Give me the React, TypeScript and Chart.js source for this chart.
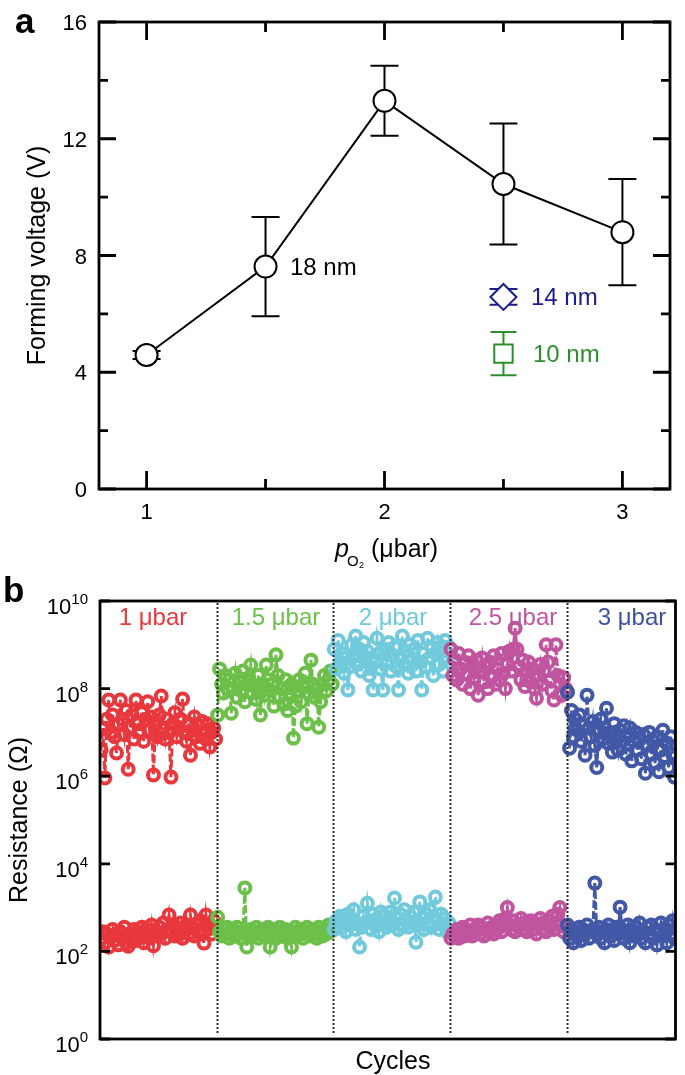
import React, { useEffect, useRef } from "react";
import { Chart, registerables } from "chart.js";

Chart.register(...registerables);

const FONT = '"Liberation Sans", Arial, Helvetica, sans-serif';

// ---------------- Panel a data ----------------
const pressureMajorTicks = [1, 2, 3];
const pressureMinorTicks = [1.5, 2.5];
const voltageMajorTicks = [0, 4, 8, 12, 16];
const voltageMinorTicks = [2, 6, 10, 14];

const pressures18nm = [1, 1.5, 2, 2.5, 3];
const voltage18nm = [4.59, 7.62, 13.3, 10.45, 8.8];
const error18nm = [0.14, 1.7, 1.2, 2.07, 1.82];

const pressures14nm = [2.5];
const voltage14nm = [6.58];
const error14nm = [0.27];

const pressures10nm = [2.5];
const voltage10nm = [4.64];
const error10nm = [0.74];

// ---------------- Panel b data ----------------
const segmentLabels = ["1 μbar", "1.5 μbar", "2 μbar", "2.5 μbar", "3 μbar"];
const segmentStartCycle = [0, 60, 120, 180, 240];
const segmentBoundaries = [60.5, 120.5, 180.5, 240.5];
const resistanceTickExponents = [0, 2, 4, 6, 8, 10];

// log10 of resistance (Ω), high-resistance state
const hrsLog1 = [6.6, 7.1, 5.96, 7.3, 7.74, 7.0, 7.4, 6.9, 6.53, 7.2, 7.74, 7.3, 6.95, 7.5, 6.16, 7.1, 7.4, 6.85, 7.74, 7.2, 7.0, 7.45, 6.8, 7.3, 7.7, 7.05, 7.35, 6.03, 7.15, 6.9, 7.4, 7.83, 7.1, 6.85, 7.3, 7.0, 5.98, 7.2, 7.45, 6.9, 7.1, 7.3, 7.76, 7.0, 6.8, 7.2, 6.48, 7.05, 7.35, 6.9, 7.15, 6.75, 7.25, 7.0, 6.85, 7.2, 6.67, 7.0, 7.1, 6.85];
const hrsLog15 = [7.4, 8.45, 8.1, 7.9, 8.3, 8.0, 8.2, 7.44, 8.0, 8.35, 7.8, 8.15, 7.95, 8.4, 7.7, 8.1, 8.25, 8.54, 7.9, 8.05, 7.75, 8.3, 7.4, 8.1, 7.85, 8.54, 8.2, 7.95, 8.1, 7.6, 8.77, 8.3, 7.8, 8.0, 7.65, 8.2, 7.5, 7.9, 8.1, 6.87, 7.6, 7.95, 8.2, 7.7, 8.05, 8.35, 7.2, 7.9, 8.65, 8.1, 7.8, 8.0, 7.12, 7.7, 8.1, 8.3, 7.95, 8.2, 8.4, 8.1];
const hrsLog2 = [8.9, 8.45, 9.1, 8.6, 8.8, 8.35, 8.7, 7.97, 8.5, 9.0, 8.75, 9.2, 8.55, 8.9, 8.4, 9.05, 8.65, 8.85, 8.3, 8.7, 7.97, 8.6, 9.15, 8.8, 8.45, 7.97, 8.9, 8.6, 9.05, 8.4, 8.75, 8.95, 8.5, 7.97, 8.7, 9.2, 8.55, 8.85, 8.35, 9.0, 8.65, 8.9, 8.4, 9.1, 8.6, 7.97, 8.8, 8.5, 9.15, 8.7, 8.95, 8.3, 8.8, 9.05, 8.55, 8.9, 8.4, 9.1, 8.7, 8.95];
const hrsLog25 = [8.9, 8.3, 8.65, 8.2, 8.8, 8.45, 8.1, 8.6, 8.35, 8.75, 8.0, 8.5, 8.25, 8.65, 7.85, 8.4, 8.7, 8.15, 8.5, 8.0, 8.6, 8.3, 8.75, 8.1, 8.45, 8.2, 8.8, 8.35, 8.0, 8.55, 8.85, 8.4, 8.9, 9.38, 8.9, 8.5, 8.2, 8.65, 8.05, 8.4, 8.6, 8.15, 8.45, 8.0, 7.78, 8.3, 8.55, 8.1, 8.4, 9.0, 8.6, 8.2, 7.95, 7.74, 9.0, 8.3, 8.1, 7.85, 8.25, 8.0];
const hrsLog3 = [7.92, 6.64, 7.5, 6.9, 7.3, 7.05, 7.4, 6.8, 7.15, 6.48, 7.85, 7.1, 6.9, 7.25, 6.7, 6.2, 7.0, 7.3, 6.85, 7.1, 7.55, 6.75, 7.0, 6.55, 7.2, 6.9, 6.6, 7.05, 6.8, 7.15, 6.5, 6.9, 7.1, 6.35, 6.8, 7.0, 6.6, 6.85, 6.4, 6.95, 6.07, 6.7, 7.0, 6.5, 6.8, 6.3, 6.9, 6.1, 6.6, 7.05, 6.45, 6.75, 6.2, 6.9, 6.5, 5.98];

// log10 of resistance (Ω), low-resistance state
const lrsLog1 = [2.3, 2.45, 2.2, 2.4, 2.1, 2.35, 2.5, 2.25, 2.4, 2.15, 2.45, 2.3, 2.55, 2.2, 2.12, 2.4, 2.3, 2.5, 2.25, 2.45, 2.35, 2.55, 2.2, 2.4, 2.5, 2.3, 2.6, 2.13, 2.45, 2.35, 2.55, 2.4, 2.65, 2.3, 2.5, 2.83, 2.45, 2.6, 2.35, 2.55, 2.4, 2.65, 2.3, 2.5, 2.6, 2.4, 2.83, 2.55, 2.35, 2.6, 2.45, 2.7, 2.4, 2.19, 2.83, 2.5, 2.6, 2.4, 2.7, 2.55];
const lrsLog15 = [2.78, 2.45, 2.35, 2.5, 2.4, 2.55, 2.3, 2.45, 2.5, 2.35, 2.55, 2.4, 2.3, 2.45, 3.45, 2.1, 2.4, 2.5, 2.35, 2.45, 2.55, 2.3, 2.4, 2.5, 2.35, 2.45, 2.55, 2.1, 2.4, 2.5, 2.3, 2.45, 2.55, 2.35, 2.45, 2.5, 2.3, 2.4, 2.1, 2.45, 2.55, 2.35, 2.45, 2.5, 2.3, 2.4, 2.55, 2.45, 2.35, 2.5, 2.4, 2.3, 2.55, 2.45, 2.35, 2.5, 2.4, 2.6, 2.45, 2.55];
const lrsLog2 = [2.5, 2.7, 2.6, 2.8, 2.55, 2.75, 2.45, 2.85, 2.6, 2.7, 2.95, 2.5, 2.65, 2.1, 2.55, 2.8, 2.65, 3.1, 2.7, 2.5, 2.85, 2.6, 2.75, 2.45, 2.9, 2.65, 2.8, 2.55, 2.7, 2.9, 2.6, 3.22, 2.75, 2.5, 2.85, 2.6, 2.95, 2.7, 2.55, 2.8, 2.65, 2.9, 2.21, 2.6, 3.13, 2.75, 2.5, 2.85, 2.65, 2.95, 2.55, 2.8, 3.24, 2.7, 2.5, 2.85, 2.6, 2.75, 2.45, 2.65];
const lrsLog25 = [2.3, 2.4, 2.35, 2.5, 2.3, 2.45, 2.55, 2.35, 2.5, 2.4, 2.6, 2.35, 2.5, 2.45, 2.6, 2.4, 2.55, 2.35, 2.5, 2.65, 2.45, 2.55, 2.4, 2.6, 2.5, 2.7, 2.45, 2.6, 2.75, 3.0, 2.6, 2.5, 2.7, 2.45, 2.6, 2.55, 2.75, 2.5, 2.65, 2.45, 2.6, 2.7, 2.5, 2.65, 2.4, 2.6, 2.75, 2.5, 2.65, 2.45, 2.7, 2.55, 2.8, 2.5, 2.65, 2.85, 3.0, 2.6, 2.45, 2.55];
const lrsLog3 = [2.6, 2.3, 2.5, 2.2, 2.45, 2.35, 2.55, 2.25, 2.5, 2.4, 2.6, 2.3, 2.45, 2.5, 3.56, 2.4, 2.55, 2.3, 2.45, 2.2, 2.5, 2.6, 2.35, 2.45, 2.25, 2.55, 2.4, 3.01, 2.5, 2.3, 2.45, 2.6, 2.2, 2.5, 2.35, 2.55, 2.4, 2.65, 2.3, 2.45, 2.2, 2.55, 2.4, 2.6, 2.3, 2.5, 2.15, 2.45, 2.65, 2.35, 2.5, 2.2, 2.6, 2.4, 2.7, 2.3];

const hrsSeries = [hrsLog1, hrsLog15, hrsLog2, hrsLog25, hrsLog3];
const lrsSeries = [lrsLog1, lrsLog15, lrsLog2, lrsLog25, lrsLog3];

// ---------------- Styles ----------------
const segmentColors = ["#e8373d", "#6cc04a", "#70cadc", "#c1549f", "#4258a7"];
const segmentTextColors = ["#e8373d", "#6cc04a", "#6cc9db", "#c1549f", "#3c51a0"];
const segmentLabelCenters = [153, 276, 393, 513, 632];
const navy = "#1c1c8c";
const green10 = "#2e8e2e";

function drawErrorBar(ctx: CanvasRenderingContext2D, xs: any, ys: any, x: number, y: number, e: number, half: number, color: string) {
  const px = xs.getPixelForValue(x);
  const top = ys.getPixelForValue(y + e);
  const bot = ys.getPixelForValue(y - e);
  ctx.strokeStyle = color;
  ctx.lineWidth = 2;
  ctx.beginPath();
  ctx.moveTo(px, top);
  ctx.lineTo(px, bot);
  ctx.moveTo(px - half, top);
  ctx.lineTo(px + half, top);
  ctx.moveTo(px - half, bot);
  ctx.lineTo(px + half, bot);
  ctx.stroke();
}

const panelAPlugin = {
  id: "panelA",
  beforeDatasetsDraw(chart: any) {
    const ctx = chart.ctx as CanvasRenderingContext2D;
    const xs = chart.scales.x;
    const ys = chart.scales.y;
    ctx.save();
    pressures18nm.forEach((p, i) => drawErrorBar(ctx, xs, ys, p, voltage18nm[i], error18nm[i], 14, "#000"));
    pressures14nm.forEach((p, i) => drawErrorBar(ctx, xs, ys, p, voltage14nm[i], error14nm[i], 14, navy));
    pressures10nm.forEach((p, i) => drawErrorBar(ctx, xs, ys, p, voltage10nm[i], error10nm[i], 13, green10));
    ctx.restore();
  },
  afterDraw(chart: any) {
    const ctx = chart.ctx as CanvasRenderingContext2D;
    const ca = chart.chartArea;
    const xs = chart.scales.x;
    const ys = chart.scales.y;
    ctx.save();
    ctx.strokeStyle = "#000";
    ctx.lineWidth = 2.8;
    ctx.strokeRect(ca.left, ca.top, ca.right - ca.left, ca.bottom - ca.top);
    ctx.beginPath();
    const yt = (v: number, len: number) => {
      const y = ys.getPixelForValue(v);
      ctx.moveTo(ca.left, y);
      ctx.lineTo(ca.left + len, y);
      ctx.moveTo(ca.right, y);
      ctx.lineTo(ca.right - len, y);
    };
    voltageMajorTicks.forEach((v) => yt(v, 17));
    voltageMinorTicks.forEach((v) => yt(v, 9));
    const xt = (v: number, len: number) => {
      const x = xs.getPixelForValue(v);
      ctx.moveTo(x, ca.top);
      ctx.lineTo(x, ca.top + len);
      ctx.moveTo(x, ca.bottom);
      ctx.lineTo(x, ca.bottom - len);
    };
    pressureMajorTicks.forEach((v) => xt(v, 18));
    pressureMinorTicks.forEach((v) => xt(v, 10));
    ctx.stroke();

    ctx.fillStyle = "#000";
    ctx.font = `22px ${FONT}`;
    ctx.textAlign = "right";
    ctx.textBaseline = "alphabetic";
    voltageMajorTicks.forEach((v) => ctx.fillText(String(v), 87, ys.getPixelForValue(v) + 8));
    ctx.textAlign = "center";
    pressureMajorTicks.forEach((v) => ctx.fillText(String(v), xs.getPixelForValue(v), 519));

    // x title: p_O2 (μbar)
    ctx.textAlign = "left";
    ctx.font = `italic 25px ${FONT}`;
    ctx.fillText("p", 335, 557);
    ctx.font = `15px ${FONT}`;
    ctx.fillText("O", 347, 566);
    ctx.font = `9px ${FONT}`;
    ctx.fillText("2", 359, 568);
    ctx.font = `25px ${FONT}`;
    ctx.fillText("(μbar)", 371, 557);

    // y title
    ctx.save();
    ctx.translate(45, (ca.top + ca.bottom) / 2);
    ctx.rotate(-Math.PI / 2);
    ctx.textAlign = "center";
    ctx.font = `25px ${FONT}`;
    ctx.fillText("Forming voltage (V)", 0, 0);
    ctx.restore();

    // annotations
    ctx.font = `24px ${FONT}`;
    ctx.textAlign = "left";
    ctx.fillStyle = "#000";
    ctx.fillText("18 nm", 290, 275);
    ctx.fillStyle = navy;
    ctx.fillText("14 nm", 531, 305);
    ctx.fillStyle = green10;
    ctx.fillText("10 nm", 533, 362);

    // panel letter
    ctx.fillStyle = "#000";
    ctx.font = `bold 35px ${FONT}`;
    ctx.fillText("a", 15, 33);
    ctx.restore();
  },
};

const panelBPlugin = {
  id: "panelB",
  afterDatasetsDraw(chart: any) {
    const ctx = chart.ctx as CanvasRenderingContext2D;
    const ca = chart.chartArea;
    const xs = chart.scales.x;
    ctx.save();
    ctx.strokeStyle = "#2a2a2a";
    ctx.lineWidth = 2;
    ctx.setLineDash([2, 2]);
    segmentBoundaries.forEach((c) => {
      const x = Math.round(xs.getPixelForValue(c)) + 0.5;
      ctx.beginPath();
      ctx.moveTo(x, ca.top + 2);
      ctx.lineTo(x, ca.bottom - 6);
      ctx.stroke();
    });
    ctx.restore();
  },
  afterDraw(chart: any) {
    const ctx = chart.ctx as CanvasRenderingContext2D;
    const ca = chart.chartArea;
    const ys = chart.scales.y;
    ctx.save();
    ctx.strokeStyle = "#000";
    ctx.lineWidth = 2.8;
    ctx.strokeRect(ca.left, ca.top, ca.right - ca.left, ca.bottom - ca.top);
    ctx.beginPath();
    resistanceTickExponents.forEach((e) => {
      const y = ys.getPixelForValue(Math.pow(10, e));
      ctx.moveTo(ca.left, y);
      ctx.lineTo(ca.left + 10, y);
      ctx.moveTo(ca.right, y);
      ctx.lineTo(ca.right - 10, y);
    });
    ctx.stroke();

    // tick labels 10^n
    ctx.fillStyle = "#000";
    ctx.textAlign = "left";
    ctx.textBaseline = "alphabetic";
    resistanceTickExponents.forEach((e) => {
      const y = ys.getPixelForValue(Math.pow(10, e));
      const exp = String(e);
      ctx.font = `15px ${FONT}`;
      const ew = ctx.measureText(exp).width;
      ctx.font = `22px ${FONT}`;
      const bw = ctx.measureText("10").width;
      const right = 88;
      ctx.fillText("10", right - ew - bw, y + 13);
      ctx.font = `15px ${FONT}`;
      ctx.fillText(exp, right - ew, y + 3);
    });

    // segment labels
    ctx.font = `24px ${FONT}`;
    ctx.textAlign = "center";
    segmentLabels.forEach((t, i) => {
      ctx.fillStyle = segmentTextColors[i];
      ctx.fillText(t, segmentLabelCenters[i], ca.top + 24);
    });

    // titles
    ctx.fillStyle = "#000";
    ctx.font = `25px ${FONT}`;
    ctx.textAlign = "center";
    ctx.fillText("Cycles", 393, ca.bottom + 30);
    ctx.save();
    ctx.translate(27, (ca.top + ca.bottom) / 2);
    ctx.rotate(-Math.PI / 2);
    ctx.fillText("Resistance (Ω)", 0, 0);
    ctx.restore();

    ctx.font = `bold 35px ${FONT}`;
    ctx.textAlign = "left";
    ctx.fillText("b", 3, ca.top + 1);
    ctx.restore();
  },
};

function PanelA() {
  const ref = useRef<HTMLCanvasElement | null>(null);
  useEffect(() => {
    if (!ref.current) return;
    const chart = new Chart(ref.current, {
      type: "scatter",
      data: {
        datasets: [
          {
            data: pressures18nm.map((p, i) => ({ x: p, y: voltage18nm[i] })),
            showLine: true,
            borderColor: "#000",
            borderWidth: 2,
            pointRadius: 11,
            pointBorderWidth: 2,
            pointBorderColor: "#000",
            pointBackgroundColor: "#fff",
          },
          {
            data: pressures14nm.map((p, i) => ({ x: p, y: voltage14nm[i] })),
            pointStyle: "rectRot",
            pointRadius: 13,
            pointBorderWidth: 2,
            pointBorderColor: navy,
            pointBackgroundColor: "#fff",
          },
          {
            data: pressures10nm.map((p, i) => ({ x: p, y: voltage10nm[i] })),
            pointStyle: "rect",
            pointRadius: 13,
            pointBorderWidth: 2,
            pointBorderColor: green10,
            pointBackgroundColor: "#fff",
          },
        ],
      } as any,
      options: {
        animation: false,
        responsive: false,
        events: [],
        layout: { padding: { left: 99, top: 22, right: 8, bottom: 81 } },
        plugins: { legend: { display: false }, tooltip: { enabled: false } },
        scales: {
          x: { type: "linear", min: 0.8, max: 3.2, display: false },
          y: { type: "linear", min: 0, max: 16, display: false },
        },
      } as any,
      plugins: [panelAPlugin],
    });
    return () => chart.destroy();
  }, []);
  return <canvas ref={ref} width={685} height={570} style={{ position: "absolute", left: 0, top: 0, width: 685, height: 570 }} />;
}

function PanelB() {
  const ref = useRef<HTMLCanvasElement | null>(null);
  useEffect(() => {
    if (!ref.current) return;
    const datasets: any[] = [];
    for (let s = 0; s < 5; s++) {
      [hrsSeries[s], lrsSeries[s]].forEach((series) => {
        datasets.push({
          data: series.map((e, i) => ({ x: segmentStartCycle[s] + i + 1, y: Math.pow(10, e) })),
          showLine: true,
          borderColor: segmentColors[s],
          borderWidth: 3,
          borderDash: [8, 3],
          pointRadius: 5.5,
          pointBorderWidth: 4,
          pointBorderColor: segmentColors[s],
          pointBackgroundColor: "rgba(255,255,255,0)",
          order: 10 - s,
        });
      });
    }
    const chart = new Chart(ref.current, {
      type: "scatter",
      data: { datasets } as any,
      options: {
        animation: false,
        responsive: false,
        events: [],
        layout: { padding: { left: 100, top: 31, right: 2, bottom: 36 } },
        plugins: { legend: { display: false }, tooltip: { enabled: false } },
        scales: {
          x: { type: "linear", min: 0.5, max: 296.5, display: false },
          y: { type: "logarithmic", min: 1, max: 1e10, display: false },
        },
      } as any,
      plugins: [panelBPlugin],
    });
    return () => chart.destroy();
  }, []);
  return <canvas ref={ref} width={685} height={505} style={{ position: "absolute", left: 0, top: 570, width: 685, height: 505 }} />;
}

export default function App() {
  return (
    <div style={{ position: "absolute", left: 0, top: 0, width: 685, height: 1075, background: "#fff", overflow: "hidden" }}>
      <PanelA />
      <PanelB />
    </div>
  );
}
